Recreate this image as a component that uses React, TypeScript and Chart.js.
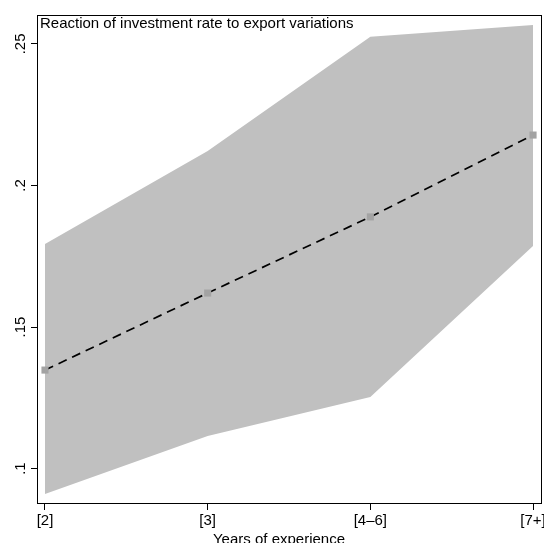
import React, { useEffect, useRef } from 'react';
import { Chart, registerables } from 'chart.js';

Chart.register(...registerables);

const categories = ['[2]', '[3]', '[4–6]', '[7+]'];
const estimates = [0.1348, 0.162, 0.1889, 0.2178];
const upperCI = [0.1793, 0.2122, 0.2525, 0.2567];
const lowerCI = [0.091, 0.1115, 0.1253, 0.1786];
const yTicks = [0.1, 0.15, 0.2, 0.25];
const yTickLabels = ['.1', '.15', '.2', '.25'];
const chartTitle = 'Reaction of investment rate to export variations';
const xTitle = 'Years of experience';

const FONT = '"Liberation Sans", Arial, Helvetica, sans-serif';

export default function App() {
  const ref = useRef<HTMLCanvasElement | null>(null);

  useEffect(() => {
    if (!ref.current) return;
    const toPts = (arr: number[]) => arr.map((v, i) => ({ x: i, y: v }));

    const framePlugin = {
      id: 'frameAndTitles',
      afterDraw(chart: any) {
        const ctx = chart.ctx;
        const a = chart.chartArea;
        ctx.save();
        ctx.strokeStyle = '#000';
        ctx.lineWidth = 1;
        ctx.strokeRect(Math.round(a.left) + 0.5, Math.round(a.top) + 0.5, Math.round(a.right - a.left) - 1, Math.round(a.bottom - a.top) - 1);
        ctx.fillStyle = '#000';
        ctx.font = `15px ${FONT}`;
        ctx.textAlign = 'left';
        ctx.textBaseline = 'alphabetic';
        ctx.fillText(chartTitle, a.left + 3, a.top + 13);
        ctx.textAlign = 'center';
        ctx.fillText(xTitle, 279, 544);
        ctx.restore();
      },
    };

    const chart = new Chart(ref.current, {
      type: 'line',
      data: {
        datasets: [
          {
            label: 'upper',
            data: toPts(upperCI),
            fill: '+1',
            backgroundColor: '#c0c0c0',
            borderWidth: 0,
            borderColor: 'rgba(0,0,0,0)',
            pointRadius: 0,
            tension: 0,
            order: 2,
          },
          {
            label: 'lower',
            data: toPts(lowerCI),
            fill: false,
            borderWidth: 0,
            borderColor: 'rgba(0,0,0,0)',
            pointRadius: 0,
            tension: 0,
            order: 2,
          },
          {
            label: 'estimate',
            data: toPts(estimates),
            fill: false,
            borderColor: '#000',
            borderWidth: 1.7,
            borderDash: [9, 6],
            pointStyle: 'rect',
            pointRadius: 5,
            pointHoverRadius: 5,
            pointBackgroundColor: '#a3a3a3',
            pointBorderColor: '#a3a3a3',
            pointBorderWidth: 0,
            tension: 0,
            order: 0,
          },
        ],
      },
      options: {
        responsive: false,
        animation: false,
        layout: { autoPadding: false, padding: { top: 15, right: 2, left: 0, bottom: 0 } },
        plugins: {
          legend: { display: false },
          tooltip: { enabled: false },
          title: { display: false },
        },
        scales: {
          x: {
            type: 'linear',
            min: -0.049,
            max: 3.055,
            afterBuildTicks: (scale: any) => {
              scale.ticks = categories.map((_, i) => ({ value: i }));
            },
            afterFit: (scale: any) => {
              scale.height = 39;
              scale.paddingLeft = 0;
              scale.paddingRight = 0;
            },
            grid: {
              display: true,
              drawOnChartArea: false,
              drawTicks: true,
              tickLength: 6,
              color: '#000',
            },
            border: { display: false },
            ticks: {
              color: '#000',
              font: { family: FONT, size: 15 },
              padding: 2,
              maxRotation: 0,
              minRotation: 0,
              autoSkip: false,
              callback: (v: any) => categories[Math.round(Number(v))] ?? '',
            },
          },
          y: {
            type: 'linear',
            min: 0.0875,
            max: 0.2602,
            afterBuildTicks: (scale: any) => {
              scale.ticks = yTicks.map((v) => ({ value: v }));
            },
            afterFit: (scale: any) => {
              scale.width = 37;
              scale.paddingTop = 0;
              scale.paddingBottom = 0;
            },
            grid: {
              display: true,
              drawOnChartArea: false,
              drawTicks: true,
              tickLength: 6,
              color: '#000',
            },
            border: { display: false },
            ticks: {
              color: '#000',
              font: { family: FONT, size: 15 },
              padding: 0,
              minRotation: 90,
              maxRotation: 90,
              crossAlign: 'center',
              autoSkip: false,
              callback: (v: any) => {
                const i = yTicks.findIndex((t) => Math.abs(t - Number(v)) < 1e-9);
                return i >= 0 ? yTickLabels[i] : '';
              },
            },
          },
        },
      },
      plugins: [framePlugin],
    } as any);

    return () => chart.destroy();
  }, []);

  return (
    <div style={{ position: 'fixed', left: 0, top: 0, width: 544, height: 543, background: '#fff' }}>
      <canvas ref={ref} width={544} height={543} style={{ width: 544, height: 543, display: 'block' }} />
    </div>
  );
}
